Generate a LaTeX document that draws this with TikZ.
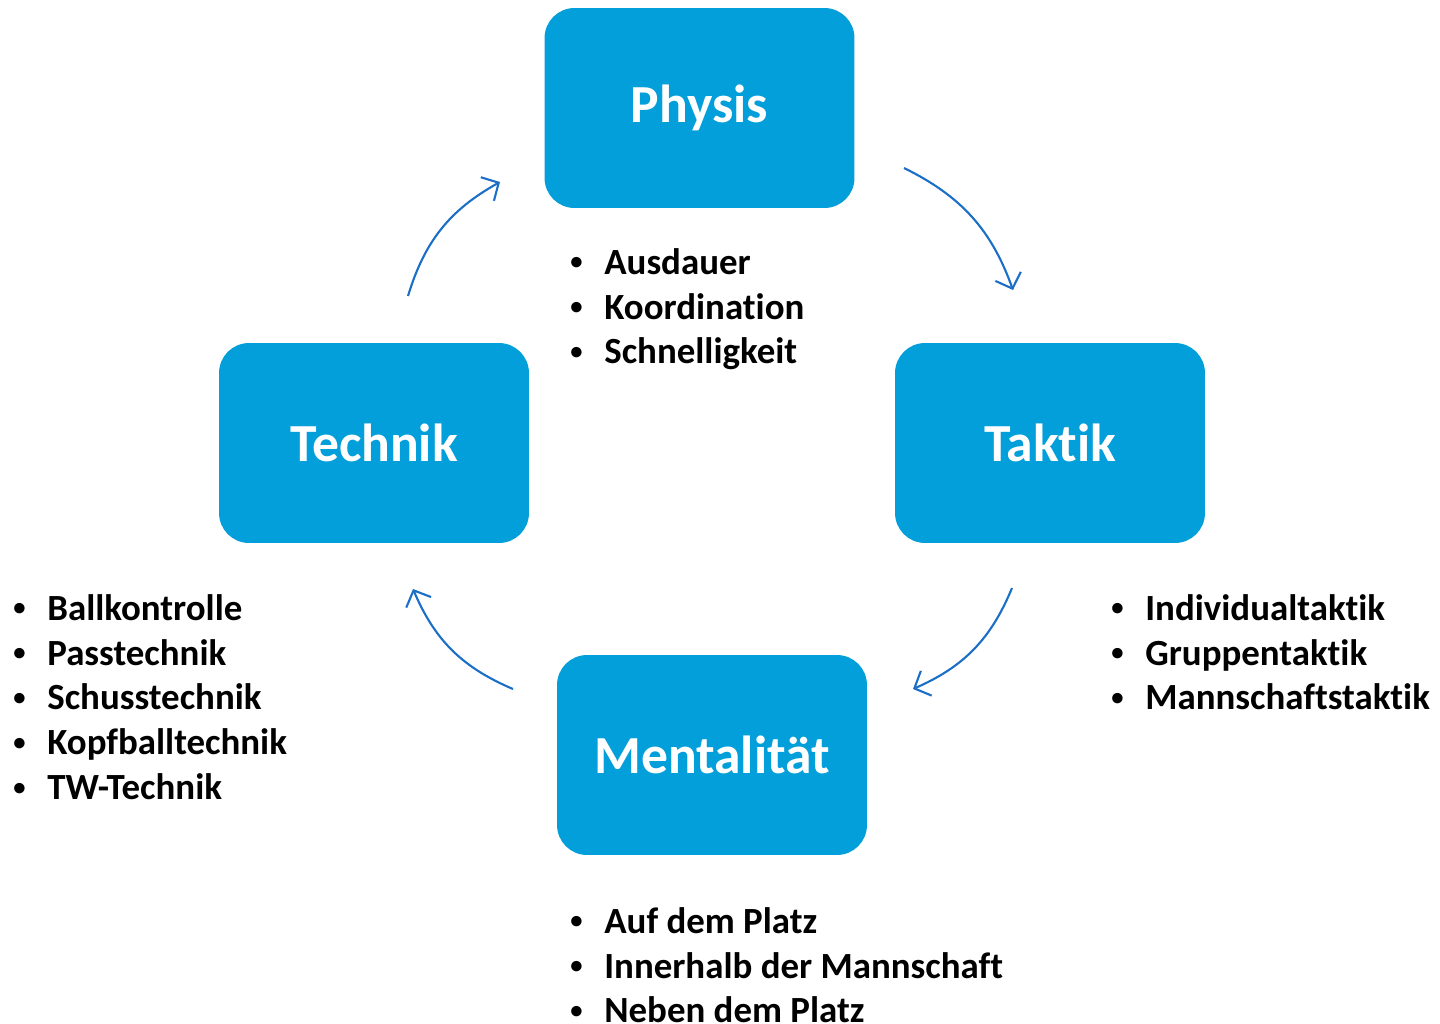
\documentclass[tikz,border=0pt]{standalone}
\usepackage{fontspec}
\setmainfont{Carlito}[Ligatures=NoCommon]
\usetikzlibrary{arrows.meta, positioning}
\definecolor{boxblue}{HTML}{039FDA}
\definecolor{arrowblue}{HTML}{1C6FC6}
\newcommand{\bul}[1]{\makebox[0.7cm][l]{\hspace{0.02cm}\raisebox{0.12em}{\fontsize{14}{14}\selectfont\textbullet}}#1}
\tikzset{
  area/.style={fill=boxblue, rounded corners=0.6cm, minimum width=6.2cm, minimum height=4cm,
    text=white, font=\fontsize{30.5}{36}\selectfont\bfseries, inner sep=0pt},
  list/.style={anchor=north west, align=left, inner sep=0pt,
    font=\fontsize{21}{25.5}\selectfont\bfseries},
  cycle/.style={arrowblue, line width=1.2pt, -{Straight Barb[length=2.6mm, width=5.4mm, line width=1.2pt]}, bend left=22}
}
\begin{document}
\begin{tikzpicture}[x=0.02cm, y=-0.02cm]
  \useasboundingbox (0,0) rectangle (1440,1024);
  % die vier Bereiche
  \node[area] (physis) at (699.5,108) {Physis};
  \node[area] (technik) at (374,443) {Technik};
  \node[area] (taktik) at (1050,443) {Taktik};
  \node[area] (mental) at (712,755) {Mentalität};
  % Stichpunkte
  \node[list] (physislist) at (569,248) {\bul{Ausdauer}\\ \bul{Koordination}\\ \bul{Schnelligkeit}};
  \node[list] (techniklist) at (12,594) {\bul{Ballkontrolle}\\ \bul{Passtechnik}\\ \bul{Schusstechnik}\\ \bul{Kopfballtechnik}\\ \bul{TW-Technik}};
  \node[list] (taktiklist) at (1110,594) {\bul{Individualtaktik}\\ \bul{Gruppentaktik}\\ \bul{Mannschaftstaktik}};
  \node[list] (mentallist) at (569,907) {\bul{Auf dem Platz}\\ \bul{Innerhalb der Mannschaft}\\ \bul{Neben dem Platz}};
  % Kreislauf
  \coordinate (p1) at (904,168);
  \coordinate (p2) at (1013,290);
  \coordinate (t1) at (1012,588);
  \coordinate (t2) at (913,689);
  \coordinate (m1) at (513,689);
  \coordinate (m2) at (413,589);
  \coordinate (k1) at (408,296);
  \coordinate (k2) at (500,182);
  \draw[cycle] (p1) to (p2);
  \draw[cycle] (t1) to (t2);
  \draw[cycle] (m1) to (m2);
  \draw[cycle] (k1) to (k2);
\end{tikzpicture}
\end{document}
